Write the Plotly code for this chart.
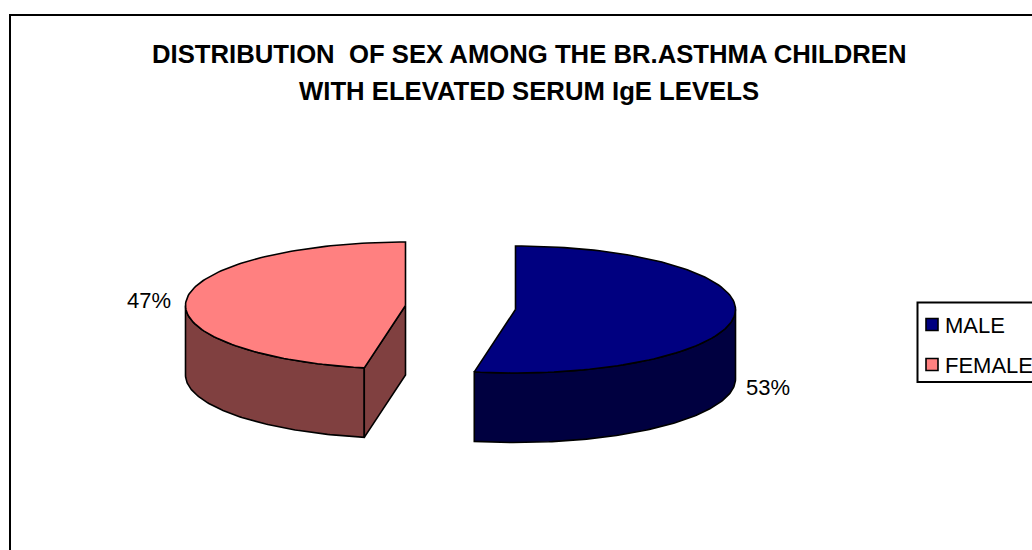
import numpy as np
import plotly.graph_objects as go

# Chart content
categories = ["MALE", "FEMALE"]
shares = [53, 47]
title_lines = ["DISTRIBUTION  OF SEX AMONG THE BR.ASTHMA CHILDREN",
               "WITH ELEVATED SERUM IgE LEVELS"]

# Colours per category: top face, side wall
top_colors = ["#000080", "#FF8080"]
side_colors = ["#000040", "#804040"]

# Projected pie geometry, in page pixels
RX, RY, DEPTH = 220, 63.5, 69.5
centers = {"MALE": (515.5, 309.5), "FEMALE": (405.5, 305.5)}
FONT = "Liberation Sans, Arial, sans-serif"


def rim(cx, cy, a0, a1, n=120):
    """Ellipse points; angles are degrees clockwise from 12 o'clock."""
    t = np.radians(np.linspace(a0, a1, n))
    return cx + RX * np.sin(t), cy - RY * np.cos(t)


def poly(x, y, color):
    return go.Scatter(x=list(x), y=list(y), mode="lines", fill="toself",
                      fillcolor=color, line=dict(color="black", width=1.6),
                      hoverinfo="skip", showlegend=False)


fig = go.Figure()
total = sum(shares)
sweeps = {c: 360 * v / total for c, v in zip(categories, shares)}
colors = {c: (t, s) for c, t, s in zip(categories, top_colors, side_colors)}

# Female slice runs counter-clockwise from 12 o'clock
cx, cy = centers["FEMALE"]
top, side = colors["FEMALE"]
end = -sweeps["FEMALE"]
wx, wy = rim(cx, cy, -90, end)
fig.add_trace(poly(np.r_[wx, wx[::-1], wx[0]], np.r_[wy, wy[::-1] + DEPTH, wy[0]], side))
ex, ey = wx[-1], wy[-1]
fig.add_trace(poly([ex, cx, cx, ex, ex], [ey, cy, cy + DEPTH, ey + DEPTH, ey], side))
tx, ty = rim(cx, cy, 0, end)
fig.add_trace(poly(np.r_[cx, tx, cx], np.r_[cy, ty, cy], top))

# Male slice runs clockwise from 12 o'clock
cx, cy = centers["MALE"]
top, side = colors["MALE"]
end = sweeps["MALE"]
wx, wy = rim(cx, cy, 90, end)
fig.add_trace(poly(np.r_[wx, wx[::-1], wx[0]], np.r_[wy, wy[::-1] + DEPTH, wy[0]], side))
tx, ty = rim(cx, cy, 0, end)
fig.add_trace(poly(np.r_[cx, tx, cx], np.r_[cy, ty, cy], top))

# Legend swatches
fig.add_trace(go.Scatter(
    x=[932, 932], y=[324.5, 364.5], mode="markers", hoverinfo="skip", showlegend=False,
    marker=dict(symbol="square", size=12, color=top_colors,
                line=dict(color="black", width=1.6))))

annotations = []
for line, y in zip(title_lines, [54, 91]):
    annotations.append(dict(x=529, y=y, text=f"<b>{line}</b>", showarrow=False,
                            xanchor="center", yanchor="middle",
                            font=dict(family=FONT, size=25.7, color="black")))
for text, x, y in [(f"{shares[1]}%", 149, 300), (f"{shares[0]}%", 768, 387)]:
    annotations.append(dict(x=x, y=y, text=text, showarrow=False,
                            font=dict(family=FONT, size=22, color="black")))
for text, y in zip(categories, [325, 365]):
    annotations.append(dict(x=943, y=y, text=text, showarrow=False, xanchor="left",
                            font=dict(family=FONT, size=22, color="black")))
fig.update_layout(annotations=annotations)

# Chart frame and legend box both run off the right and bottom edges
fig.add_shape(type="rect", x0=10, y0=15, x1=1060, y1=580,
              line=dict(color="black", width=2), layer="below")
fig.add_shape(type="rect", x0=917.5, y0=302.5, x1=1060, y1=382,
              line=dict(color="black", width=2), layer="below")

fig.update_xaxes(range=[0, 1032], visible=False, fixedrange=True)
fig.update_yaxes(range=[550, 0], visible=False, fixedrange=True)
fig.update_layout(width=1032, height=550, margin=dict(l=0, r=0, t=0, b=0),
                  paper_bgcolor="white", plot_bgcolor="white")
fig.write_html("out.html", config=dict(displayModeBar=False))
